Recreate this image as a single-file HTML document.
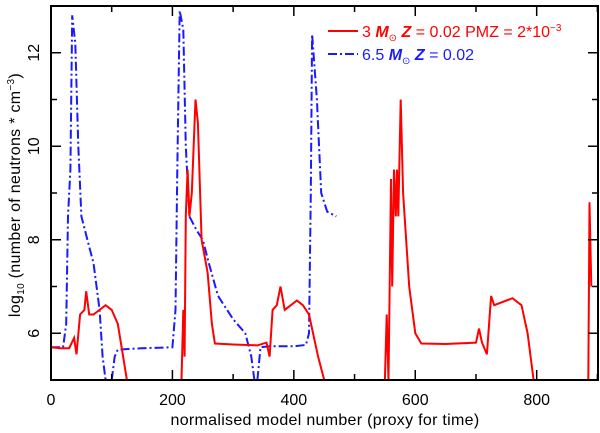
<!DOCTYPE html>
<html><head><meta charset="utf-8"><style>
body{margin:0;background:#fff;}
svg{display:block;font-family:"Liberation Sans","DejaVu Sans",sans-serif;}
</style></head><body>
<svg id="chart" width="600" height="433"></svg>
<script>
const xTicks=[0,200,400,600,800];
const yTicks=[6,8,10,12];
const redX=[0,15,30,38,42,48,55,58,63,70,90,100,110,120,125,null,215,218,220,222,225,228,232,238,242,248,258,265,270,300,340,355,360,365,372,378,385,405,415,425,440,450,null,550,553,556,560,562,565,568,570,572,576,580,590,600,610,650,700,705,710,718,725,730,760,775,785,795,null,885,887,890];
const redY=[5.7,5.68,5.68,5.9,5.55,6.4,6.5,6.9,6.4,6.4,6.6,6.5,6.2,5.4,5,null,5,6.5,5.5,8.5,9.5,8.5,9,11,10.5,8,7.3,6.2,5.78,5.76,5.74,5.8,5.5,6.5,6.6,7,6.5,6.7,6.6,6.4,5.5,5,null,5,6.4,5,9.3,7,9.5,8.5,9.5,8.5,11,9,7,6,5.78,5.77,5.8,6.1,5.8,5.55,6.8,6.6,6.75,6.6,6,5,null,5,8.8,7];
const blueX=[0,20,25,28,32,35,40,45,50,60,70,80,85,90,null,100,105,110,150,200,205,208,212,218,222,228,240,250,260,275,300,320,330,335,null,340,345,360,400,420,425,428,430,438,445,455,470];
const blueY=[5.7,5.7,6.2,8.5,9.5,12.8,12.2,10,8.5,8,7.5,6.5,5.5,5,null,5,5.5,5.65,5.68,5.7,6.5,9.5,12.9,12.5,10,8.5,8.2,8,7.5,6.8,6.3,6,5.5,5,null,5,5.7,5.72,5.72,5.75,6,9,12.4,11,9,8.6,8.5];
const L=51,R=598,T=6,B=380,XMAX=901,YMIN=5,YMAX=13;
const sx=v=>L+(v/XMAX)*(R-L);
const sy=v=>B-(v-YMIN)/(YMAX-YMIN)*(B-T);
const NS="http://www.w3.org/2000/svg";
const svg=document.getElementById('chart');
function mk(t,a){const e=document.createElementNS(NS,t);for(const k in a)e.setAttribute(k,a[k]);svg.appendChild(e);return e;}
const defs=mk('clipPath',{id:'clip'});
const cr=document.createElementNS(NS,'rect');cr.setAttribute('x',L);cr.setAttribute('y',T);cr.setAttribute('width',R-L);cr.setAttribute('height',B-T);defs.appendChild(cr);
function pathFrom(xs,ys){let d='',pen=false;for(let i=0;i<xs.length;i++){if(xs[i]===null){pen=false;continue;}d+=(pen?'L':'M')+sx(xs[i]).toFixed(1)+','+sy(ys[i]).toFixed(1);pen=true;}return d;}
const bl=mk('path',{d:pathFrom(blueX,blueY),fill:'none',stroke:'#1a1aff','stroke-width':2,'stroke-dasharray':'9,3,2,3','clip-path':'url(#clip)'});


const rl=mk('path',{d:pathFrom(redX,redY),fill:'none',stroke:'#f00','stroke-width':2,'clip-path':'url(#clip)'});


const fr=mk('rect',{x:L,y:T,width:R-L,height:B-T,fill:'none',stroke:'#000','stroke-width':2});


for(let v=0;v<=900;v+=100){const x=sx(v),len=(v%200===0)?10:6;
 mk('line',{x1:x,y1:B,x2:x,y2:B-len,stroke:'#000','stroke-width':1.5});
 mk('line',{x1:x,y1:T,x2:x,y2:T+len,stroke:'#000','stroke-width':1.5});}
for(let v=5;v<=13;v++){const y=sy(v),len=(v%2===0)?10:6;
 mk('line',{x1:L,y1:y,x2:L+len,y2:y,stroke:'#000','stroke-width':1.5});
 mk('line',{x1:R,y1:y,x2:R-len,y2:y,stroke:'#000','stroke-width':1.5});}
xTicks.forEach(v=>{const t=mk('text',{x:sx(v),y:B+25,'text-anchor':'middle','font-size':16});t.textContent=v;
 
 });
yTicks.forEach(v=>{const t=mk('text',{x:0,y:0,'text-anchor':'middle','font-size':16,transform:`translate(${L-12},${sy(v)}) rotate(-90)`});t.textContent=v;
 
 });
</script>
<svg width="600" height="433" style="position:absolute;left:0;top:0;font-family:'Liberation Sans','DejaVu Sans',sans-serif">
<text x="325" y="425" text-anchor="middle" font-size="16" letter-spacing="0.3">normalised model number (proxy for time)</text>
<text transform="translate(20,195) rotate(-90)" text-anchor="middle" font-size="16" letter-spacing="0.3">log<tspan font-size="10" dy="4">10</tspan><tspan dy="-4"> (number of neutrons * cm</tspan><tspan font-size="10" dy="-6">−3</tspan><tspan dy="6">)</tspan></text>
<g>
<line x1="328" y1="31" x2="358" y2="31" stroke="#f00" stroke-width="2"/>
<text x="362" y="37" font-size="16" fill="#f00">3 <tspan font-style="italic" font-weight="bold">M</tspan><tspan font-size="10" dy="4">⊙</tspan><tspan dy="-4" font-style="italic" font-weight="bold"> Z</tspan> = 0.02 PMZ = 2*10<tspan font-size="10" dy="-6">−3</tspan></text>
<line x1="328" y1="54" x2="358" y2="54" stroke="#1a1aff" stroke-width="2" stroke-dasharray="9,3,2,3"/>
<text x="362" y="60" font-size="16" fill="#1a1aff">6.5 <tspan font-style="italic" font-weight="bold">M</tspan><tspan font-size="10" dy="4">⊙</tspan><tspan dy="-4" font-style="italic" font-weight="bold"> Z</tspan> = 0.02</text>
</g>
</svg>
</body></html>
